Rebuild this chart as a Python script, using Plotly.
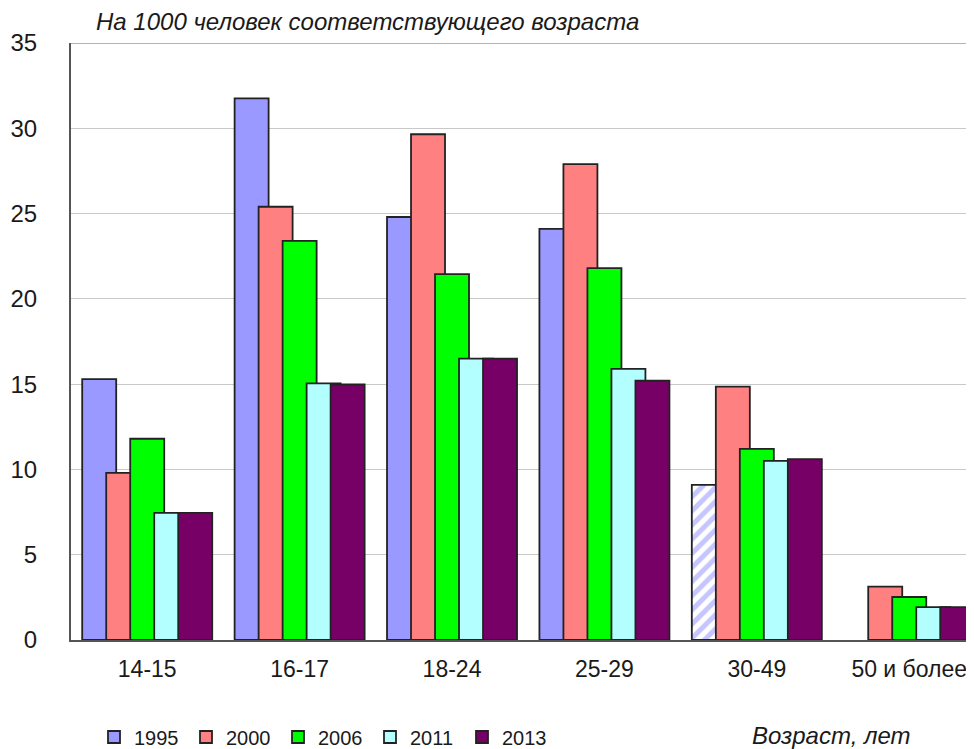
import plotly.graph_objects as go

categories = ["14-15", "16-17", "18-24", "25-29", "30-49", "50 и более"]
years = ["1995", "2000", "2006", "2011", "2013"]
v1995 = [15.3, 31.75, 24.8, 24.1, 9.1, None]
v2000 = [9.8, 25.4, 29.65, 27.9, 14.85, 3.13]
v2006 = [11.8, 23.4, 21.45, 21.8, 11.2, 2.52]
v2011 = [7.45, 15.05, 16.5, 15.9, 10.5, 1.93]
v2013 = [7.45, 14.98, 16.5, 15.2, 10.6, 1.93]
series = [v1995, v2000, v2006, v2011, v2013]
colors = ["#9999FF", "#FF8080", "#00FF00", "#B3FFFF", "#770066"]
hatched_1995 = ["", "", "", "", "/", ""]
y_ticks = [0, 5, 10, 15, 20, 25, 30, 35]

FONT = "Liberation Sans, Arial, sans-serif"
TXT = "#1a1a1a"

fig = go.Figure()
bar_w = 0.2231
step = 0.1575
start = -0.4265
for i, (yr, vals, col) in enumerate(zip(years, series, colors)):
    marker = dict(color=col, line=dict(color="#222222", width=1.8))
    if yr == "1995":
        marker["pattern"] = dict(shape=hatched_1995, fgcolor="#8c8cff",
                                 bgcolor="white", size=10, solidity=0.5)
    fig.add_trace(go.Bar(
        x=list(range(len(categories))), y=vals, name=yr,
        width=bar_w, offset=start + i * step, marker=marker,
    ))

# page body has an 8px offset; figure coords = window coords - 8
OFF = 8
W, H = 974 - OFF, 749 - OFF
PL, PT, PW, PH = 71 - OFF, 43 - OFF, 903, 597

fig.update_layout(
    width=W, height=H,
    margin=dict(l=PL, r=0, t=PT, b=H - PT - PH),
    paper_bgcolor="white", plot_bgcolor="white",
    barmode="overlay",
    font=dict(family=FONT, size=23, color=TXT),
    showlegend=True,
    legend=dict(orientation="h", xref="container", yref="container",
                x=86 / W, y=(H - (737 - OFF)) / H, xanchor="left", yanchor="middle",
                font=dict(size=20, color=TXT),
                entrywidth=47, entrywidthmode="pixels",
                itemwidth=30, traceorder="normal"),
)
fig.update_xaxes(
    range=[-0.5, 5.425],
    tickmode="array", tickvals=list(range(len(categories))), ticktext=categories,
    showline=True, linecolor="#555555", linewidth=2,
    showgrid=False, ticks="", ticklabelstandoff=7,
    tickfont=dict(size=23, color=TXT), zeroline=False,
)
fig.update_yaxes(
    range=[0, 35], tickmode="array", tickvals=y_ticks,
    showline=True, linecolor="#555555", linewidth=2,
    showgrid=True, gridcolor="#c8c8c8", gridwidth=1.3,
    ticks="", ticklabelstandoff=27, zeroline=False,
    tickfont=dict(size=24, color=TXT),
)
fig.add_shape(type="line", xref="paper", yref="y", x0=0, x1=1, y0=35, y1=35,
              line=dict(color="#999999", width=1.5))
fig.add_annotation(text="<i>На 1000 человек соответствующего возраста</i>",
                   xref="paper", yref="paper",
                   x=(94 - OFF - PL) / PW, y=(PT + PH - (22 - OFF)) / PH,
                   xanchor="left", yanchor="middle", showarrow=False,
                   font=dict(size=24, color=TXT))
fig.add_annotation(text="<i>Возраст, лет</i>",
                   xref="paper", yref="paper",
                   x=(913 - OFF - PL) / PW, y=(PT + PH - (735 - OFF)) / PH,
                   xanchor="right", yanchor="middle", showarrow=False,
                   font=dict(size=24, color=TXT))

fig.write_html("out.html")
